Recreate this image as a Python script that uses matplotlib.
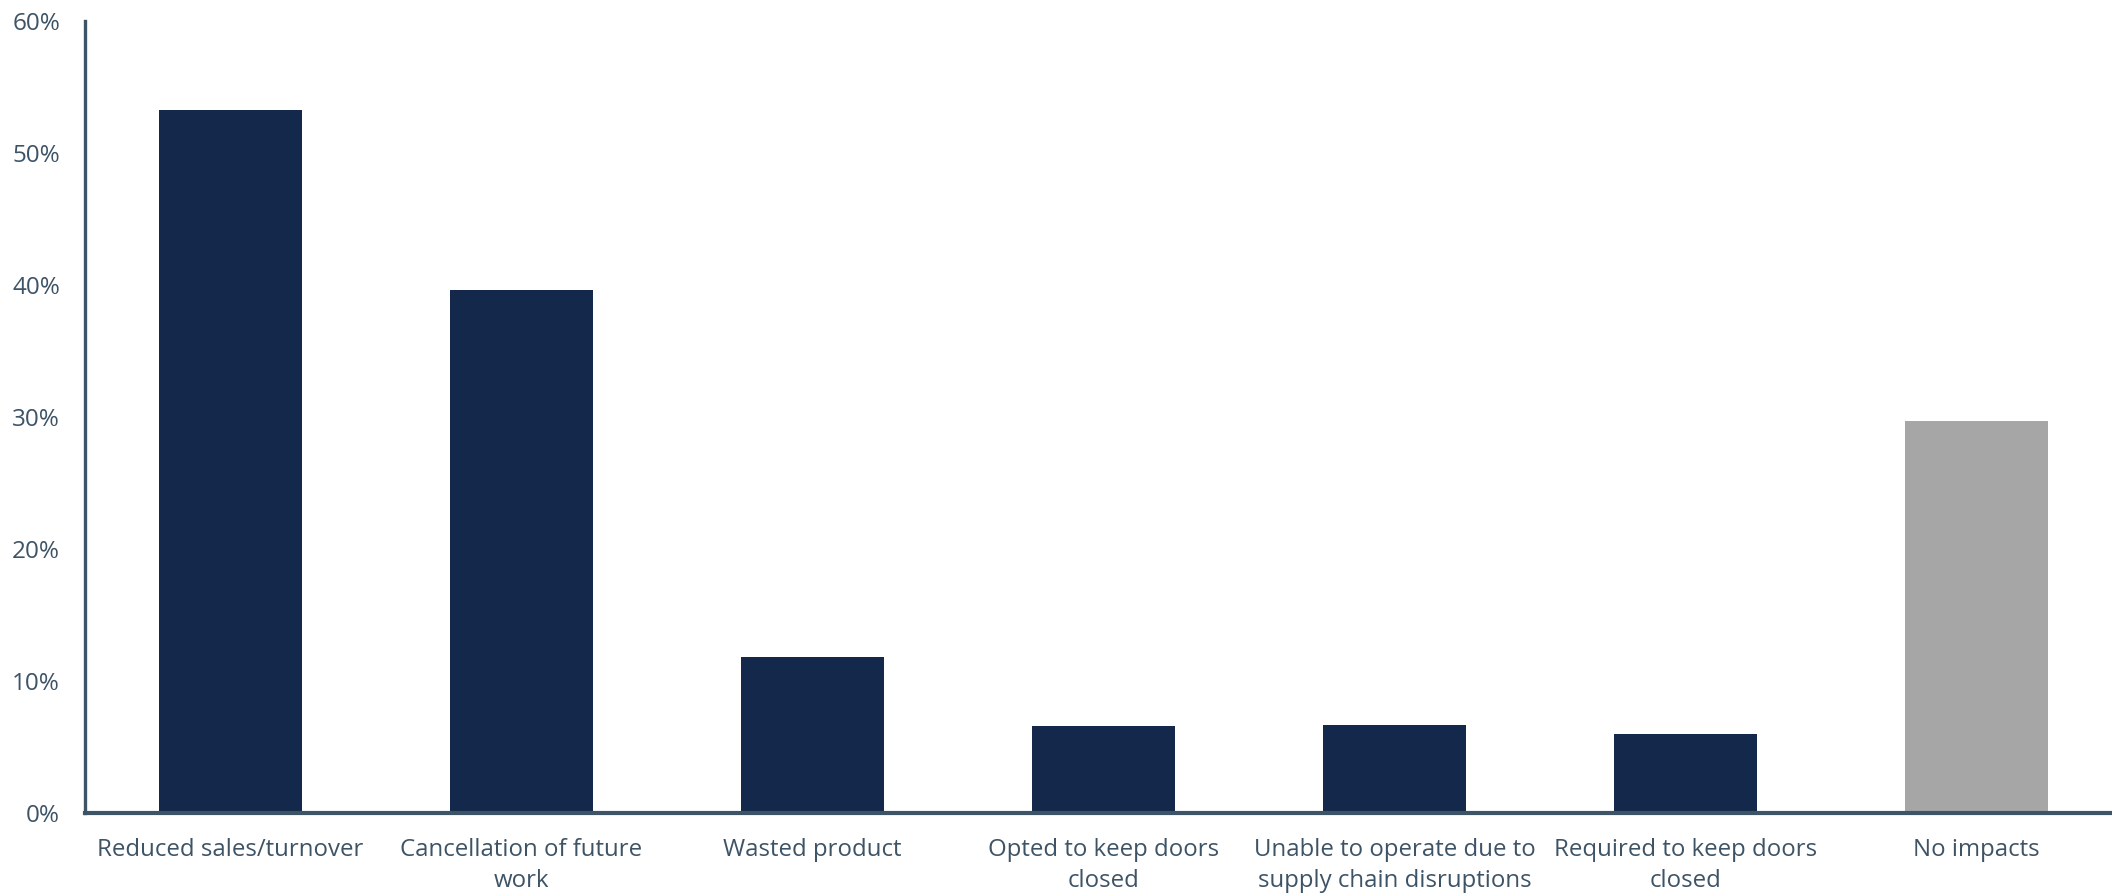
import matplotlib
matplotlib.use("Agg")
import matplotlib.pyplot as plt
from matplotlib.ticker import FuncFormatter

categories = ["Reduced sales/turnover", "Cancellation of future\nwork", "Wasted product",
              "Opted to keep doors\nclosed", "Unable to operate due to\nsupply chain disruptions",
              "Required to keep doors\nclosed", "No impacts"]
values = [53.2, 39.6, 11.8, 6.6, 6.7, 6.0, 29.7]
colors = ["#14284b"] * 6 + ["#a6a6a6"]
yticks = [0, 10, 20, 30, 40, 50, 60]

plt.rcParams['font.family'] = ['Open Sans', 'DejaVu Sans']
text_color = "#3d5366"

fig = plt.figure(figsize=(21.12, 8.96), dpi=100)
ax = fig.add_axes([85/2112, 83/896, 1 - 85/2112, (813 - 20.7)/896])

x = list(range(len(categories)))
ax.bar(x, values, width=0.49, color=colors, zorder=2)

ax.set_xlim(-0.5, 6.466)
ax.set_ylim(0, 60)
ax.set_yticks(yticks)
ax.yaxis.set_major_formatter(FuncFormatter(lambda v, p: f"{int(v)}%"))
ax.set_xticks(x)
ax.set_xticklabels(categories, fontsize=17.3, color=text_color, linespacing=1.4)
ax.tick_params(axis='y', length=0, pad=18, labelsize=17.5, labelcolor=text_color)
ax.tick_params(axis='x', length=0, pad=18)

for s in ["top", "right"]:
    ax.spines[s].set_visible(False)
ax.spines["left"].set_color(text_color)
ax.spines["left"].set_linewidth(2.4)
ax.spines["bottom"].set_color(text_color)
ax.spines["bottom"].set_linewidth(3)

fig.savefig("out.png", dpi=100)
